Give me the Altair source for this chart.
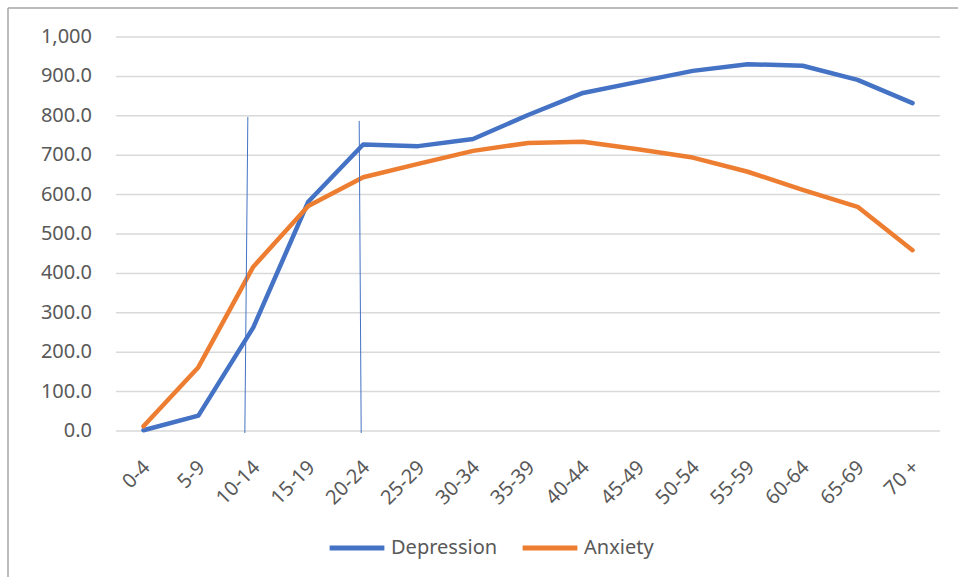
import altair as alt
import pandas as pd

# Age bands and series values
age_groups = ["0-4", "5-9", "10-14", "15-19", "20-24", "25-29", "30-34", "35-39",
              "40-44", "45-49", "50-54", "55-59", "60-64", "65-69", "70 +"]
depression = [2, 39, 263, 582, 727, 723, 741, 802, 858, 886, 914, 931, 927, 891, 832]
anxiety = [12, 162, 417, 571, 644, 678, 711, 731, 734, 715, 694, 658, 612, 569, 459]

series_names = ["Depression", "Anxiety"]
series_colors = ["#4472C4", "#ED7D31"]

# Value-axis ticks and their labels
y_ticks = [0, 100, 200, 300, 400, 500, 600, 700, 800, 900, 1000]
y_labels = ["0.0", "100.0", "200.0", "300.0", "400.0", "500.0",
            "600.0", "700.0", "800.0", "900.0", "1,000"]

# Marker lines at two age bands
marker_groups = ["10-14", "20-24"]
marker_tops = [797, 787]

FONT = "Noto Sans"
TEXT = "#595959"
FS = 20

rows = []
for name, vals in zip(series_names, [depression, anxiety]):
    for g, v in zip(age_groups, vals):
        rows.append({"age": g, "value": v, "series": name})
df = pd.DataFrame(rows)
ticks_df = pd.DataFrame({"value": y_ticks, "label": y_labels})

x_axis = alt.Axis(title=None, labelAngle=-45, labelAlign="right",
                  labelBaseline="middle", labelPadding=33, labelOffset=3,
                  labelOverlap=False,
                  domain=False, ticks=False, grid=False,
                  labelFont=FONT, labelFontSize=FS, labelColor=TEXT)
x_scale = alt.Scale(type="point", padding=0.5, domain=age_groups)
y_scale = alt.Scale(domain=[0, 1000], nice=False)

# Horizontal gridlines and value labels
grid = alt.Chart(ticks_df).mark_rule(color="#D9D9D9", strokeWidth=1.5).encode(
    y=alt.Y("value:Q", scale=y_scale, axis=None),
)
grid_labels = alt.Chart(ticks_df).mark_text(
    align="right", baseline="middle", font=FONT, fontSize=FS, color=TEXT, dx=-24
).encode(
    x=alt.value(0),
    y=alt.Y("value:Q", scale=y_scale, axis=None),
    text="label:N",
)

lines = alt.Chart(df).mark_line(strokeWidth=4.5, strokeCap="round", strokeJoin="round").encode(
    x=alt.X("age:N", sort=age_groups, scale=x_scale, axis=x_axis),
    y=alt.Y("value:Q", scale=y_scale, axis=None),
    color=alt.Color("series:N", sort=series_names,
                    scale=alt.Scale(domain=series_names, range=series_colors),
                    legend=alt.Legend(title=None, orient="none", direction="horizontal",
                                      legendX=211, legendY=481,
                                      symbolType="stroke", symbolSize=3000,
                                      symbolStrokeWidth=5, columnPadding=14,
                                      labelOffset=4,
                                      labelFont=FONT, labelFontSize=FS, labelColor=TEXT)),
)

def marker(group, top, off_top, off_bottom):
    d = pd.DataFrame({"age": [group], "top": [top], "bottom": [0]})
    return alt.Chart(d).mark_rule(color="#4472C4", strokeWidth=1,
                                  xOffset=off_top, x2Offset=off_bottom, y2Offset=2).encode(
        x=alt.X("age:N", sort=age_groups, scale=x_scale, axis=x_axis),
        x2="age:N",
        y=alt.Y("top:Q", scale=y_scale, axis=None),
        y2="bottom:Q",
    )

m1 = marker(marker_groups[0], marker_tops[0], -5.5, -8.5)
m2 = marker(marker_groups[1], marker_tops[1], -4, -2)

# Chart frame (left and top edges)
frame_df = pd.DataFrame({"k": [0]})
frame_left = alt.Chart(frame_df).mark_rule(color="#A6A6A6", strokeWidth=1.5).encode(
    x=alt.value(-108), y=alt.value(-29), y2=alt.value(560))
frame_top = alt.Chart(frame_df).mark_rule(color="#A6A6A6", strokeWidth=1.5).encode(
    x=alt.value(-108), x2=alt.value(860), y=alt.value(-29))

chart = alt.layer(grid, grid_labels, lines, m1, m2, frame_left, frame_top).properties(
    width=824, height=394,
    autosize=alt.AutoSizeParams(type="none"),
    padding={"left": 116, "top": 37, "right": 18, "bottom": 146},
    background="white",
).configure_view(stroke=None)

chart.save("out.html", embed_options={"renderer": "svg", "actions": False})
